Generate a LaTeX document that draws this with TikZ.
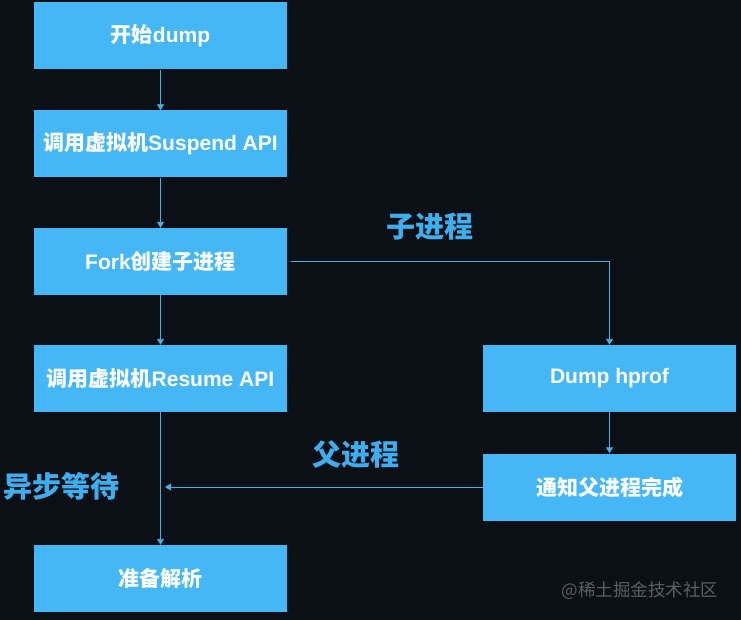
\documentclass[tikz,border=0pt]{standalone}
\usepackage{fontspec}
\setmainfont{Liberation Sans}
\newfontfamily\cjk{Noto Sans CJK SC}
\usetikzlibrary{arrows.meta}
\definecolor{bg}{HTML}{0B0F16}
\definecolor{boxblue}{HTML}{45B7F6}
\definecolor{lblblue}{HTML}{3FAEEE}
\definecolor{lineblue}{HTML}{4AAEE6}
\definecolor{wm}{HTML}{5A5F66}
\tikzset{
  stepbox/.style={rectangle, fill=boxblue, draw=none, minimum width=253pt, minimum height=67pt, inner sep=0pt, text=white, font=\fontsize{21}{24}\selectfont\bfseries},
  conn/.style={draw=lineblue, line width=0.9pt, -{Triangle[width=7pt,length=6pt]}},
  lbl/.style={text=lblblue, font=\fontsize{29}{33}\selectfont\cjk\bfseries, inner sep=0pt}
}
\begin{document}
\begin{tikzpicture}[x=1pt,y=-1pt]
\fill[bg] (0,0) rectangle (741,620);
\useasboundingbox (0,0) rectangle (741,620);
\node[stepbox] (start) at (160.5,36) {{\cjk\bfseries 开始}dump};
\node[stepbox] (suspend) at (160.5,144) {{\cjk\bfseries 调用虚拟机}Suspend API};
\node[stepbox] (fork) at (160.5,261.5) {Fork{\cjk\bfseries 创建子进程}};
\node[stepbox] (resume) at (160.5,378.5) {{\cjk\bfseries 调用虚拟机}Resume API};
\node[stepbox] (parse) at (160.5,578.5) {{\cjk\bfseries 准备解析}};
\node[stepbox] (dump) at (609.5,378.5) {Dump hprof};
\node[stepbox] (notify) at (609.5,487) {{\cjk\bfseries 通知父进程完成}};
\node[lbl] (child) at (430,227) {子进程};
\node[lbl] (parent) at (356,455) {父进程};
\node[lbl] (async) at (61.5,486) {异步等待};
\node[text=wm, font=\fontsize{17.5}{20}\selectfont\cjk, inner sep=0pt] (wmark) at (640,591) {@稀土掘金技术社区};
\coordinate (forkout) at ([xshift=4pt]fork.east);
\coordinate (asyncend) at (165,487);
\draw[conn] (start) -- (suspend);
\draw[conn] (suspend) -- (fork);
\draw[conn] (fork) -- (resume);
\draw[conn] (resume) -- (parse);
\draw[conn] (forkout) -| (dump);
\draw[conn] (dump) -- (notify);
\draw[conn] (notify.west) -- (asyncend);
\end{tikzpicture}
\end{document}
